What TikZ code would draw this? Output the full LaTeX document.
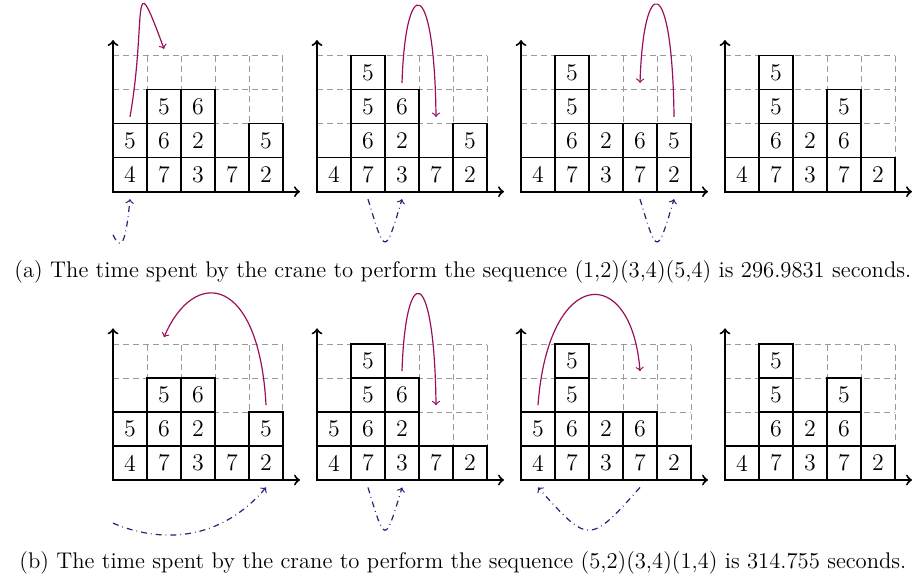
\documentclass[tikz,border=0pt]{standalone}
\usepackage{tikz}
\definecolor{hoistColor}{HTML}{990F5C}
\definecolor{trolleyColor}{HTML}{23237A}
\definecolor{slotColor}{HTML}{9A9A9A}

% one bay: #1 name, #2 origin, #3 stacks from column 1 to 5
\newcommand{\yardbay}[3]{%
  \begin{scope}[shift={#2}]
    \draw[slotgrid] (0,0) grid (5,4);
    \foreach \col in {1,...,5} {
      \coordinate (#1-rail-\col) at (\col-0.5,-0.22);
      \foreach \tier in {1,...,4}
        \coordinate (#1-hook-\col-\tier) at (\col-0.5,\tier+0.2);
    }
    \coordinate (#1-home) at (0,-1.27);
    \foreach \stack [count=\col] in {#3} {
      \foreach \lbl [count=\tier] in \stack
        \node[container] (#1-\col-\tier) at (\col-0.5,\tier-0.5) {\lbl};
    }
    \draw[axis] (0,4.46) -- (0,0) -- (5.5,0);
  \end{scope}
}

\begin{document}
\begin{tikzpicture}[
    x=0.6cm, y=0.6cm,
    slotgrid/.style={
        draw=slotColor,
        dash pattern=on 3pt off 2pt,
        line width=0.5pt,
        step=1,
    },
    container/.style={
        draw,
        line width=0.6pt,
        fill=white,
        minimum size=0.6cm,
        inner sep=0pt,
        font=\large,
    },
    axis/.style={<->, line width=1pt},
    hoist/.style={->, draw=hoistColor, line width=0.6pt},
    trolley/.style={->, draw=trolleyColor, dash dot, line width=0.6pt},
    caption/.style={font=\fontsize{11.37pt}{13.6pt}\selectfont},
]
\useasboundingbox (-3.324,-11.45) rectangle (23.735,5.638);

% (a)
\yardbay{a1}{(0,0)}{{4,5},{7,6,5},{3,2,6},{7},{2,5}}
\yardbay{a2}{(6,0)}{{4},{7,6,5,5},{3,2,6},{7},{2,5}}
\yardbay{a3}{(12,0)}{{4},{7,6,5,5},{3,2},{7,6},{2,5}}
\yardbay{a4}{(18,0)}{{4},{7,6,5,5},{3,2},{7,6,5},{2}}

\draw[hoist] (a1-hook-1-2) .. controls +(0.5,2.86) and +(-1.0,2.73) .. (a1-hook-2-4);
\draw[hoist] (a2-hook-3-3) .. controls +(0.1,3.2) and +(-0.05,4.2) .. (a2-hook-4-2);
\draw[hoist] (a3-hook-5-2) .. controls +(-0.05,4.3) and +(0.1,3.2) .. (a3-hook-4-3);

\draw[trolley] (a1-home) .. controls +(0.3,-0.63) and +(-0.1,-0.98) .. (a1-rail-1);
\draw[trolley] (a2-rail-2) .. controls +(0.5,-1.67) and +(-0.5,-1.67) .. (a2-rail-3);
\draw[trolley] (a3-rail-4) .. controls +(0.5,-1.67) and +(-0.5,-1.67) .. (a3-rail-5);

\node[caption] (capA) at (10.29,-2.35)
    {(a) The time spent by the crane to perform the sequence (1,2)(3,4)(5,4) is 296.9831 seconds.};

% (b)
\yardbay{b1}{(0,-8.48)}{{4,5},{7,6,5},{3,2,6},{7},{2,5}}
\yardbay{b2}{(6,-8.48)}{{4,5},{7,6,5,5},{3,2,6},{7},{2}}
\yardbay{b3}{(12,-8.48)}{{4,5},{7,6,5,5},{3,2},{7,6},{2}}
\yardbay{b4}{(18,-8.48)}{{4},{7,6,5,5},{3,2},{7,6,5},{2}}

\draw[hoist] (b1-hook-5-2) .. controls +(-0.2,3.8) and +(0.9,2.1) .. (b1-hook-2-4);
\draw[hoist] (b2-hook-3-3) .. controls +(0.1,3.2) and +(-0.05,4.2) .. (b2-hook-4-2);
\draw[hoist] (b3-hook-1-2) .. controls +(0.3,4.1) and +(-0.25,3.2) .. (b3-hook-4-3);

\draw[trolley] (b1-home) .. controls +(1.5,-0.63) and +(-1.3,-1.53) .. (b1-rail-5);
\draw[trolley] (b2-rail-2) .. controls +(0.5,-1.67) and +(-0.5,-1.67) .. (b2-rail-3);
\draw[trolley] (b3-rail-4) .. controls +(-1.5,-1.67) and +(1.5,-1.67) .. (b3-rail-1);

\node[caption] (capB) at (10.29,-10.92)
    {(b) The time spent by the crane to perform the sequence (5,2)(3,4)(1,4) is 314.755 seconds.};

\end{tikzpicture}
\end{document}
